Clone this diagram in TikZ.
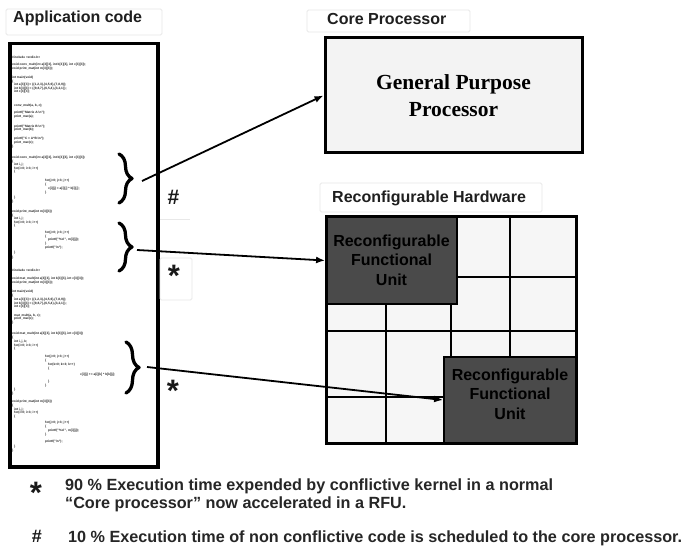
\documentclass[tikz,border=0pt]{standalone}
\usepackage{fontspec}
\setmainfont{Liberation Sans}
\newfontfamily\gppfont{Liberation Serif}
\usetikzlibrary{arrows.meta,decorations.pathreplacing}
\definecolor{rfufill}{HTML}{4A4A4A}
\definecolor{cellfill}{HTML}{F6F6F6}
\definecolor{gppfill}{HTML}{F3F3F3}
\definecolor{faint}{HTML}{E8E8E8}
\newcounter{srcln}
% one line of the tiny source listing: y, x, text
\newcommand\srcline[3]{\stepcounter{srcln}\node[codetext] (src\arabic{srcln}) at (#2,#1) {#3};}
\begin{document}
\begin{tikzpicture}[x=1pt,y=-1pt,
  heading/.style={anchor=west, inner sep=0pt, font=\bfseries\fontsize{16}{19}\selectfont, text=black!88},
  faintbox/.style={draw=faint, line width=0.8pt, rounded corners=1.5pt},
  codetext/.style={anchor=west, inner sep=0pt, font=\bfseries\fontsize{3.2}{3.2}\selectfont, text=black!85},
  rfu/.style={draw=black, line width=1.8pt, fill=rfufill, inner sep=0pt},
  rfutext/.style={align=center, inner sep=0pt, font=\bfseries\fontsize{16}{19.5}\selectfont, text=black},
  link/.style={line width=1.8pt, -{Latex[length=9pt,width=7pt]}},
  codebrace/.style={decorate, decoration={brace, amplitude=13pt, aspect=0.5}, line width=3.3pt, line cap=round, line join=round},
  sym/.style={anchor=base, inner sep=0pt, text=black!90},
  legendtext/.style={anchor=base west, inner sep=0pt, font=\bfseries\fontsize{16.2}{18}\selectfont, text=black!85},
]
\useasboundingbox (0,0) rectangle (686,553);
\fill[white] (0,0) rectangle (686,553);

% ---------- headings ----------
\draw[faintbox] (6,9) rectangle (162,35);
\draw[faintbox] (307,10) rectangle (470,32);
\draw[faintbox] (320,183) rectangle (542,212);
\node[heading] (apphead) at (13,18) {Application code};
\node[heading] (corehead) at (327,19) {Core Processor};
\node[heading] (rhwhead) at (332,198) {Reconfigurable Hardware};

% ---------- application code listing ----------
\node[draw=black, line width=3.5pt, fill=white, anchor=north west, inner sep=0pt,
      minimum width=148pt, minimum height=423pt] (app) at (8,42) {};

\srcline{57}{12}{\#include <stdio.h>}
\srcline{65}{12}{void conv\_mult(int a[3][3], int b[3][3], int c[3][3]);}
\srcline{68.5}{12}{void print\_mat(int m[3][3]);}
\srcline{78}{12}{int main(void)}
\srcline{81.5}{12}{\{}
\srcline{85}{14}{int a[3][3] = \{\{1,2,3\},\{4,5,6\},\{7,8,9\}\};}
\srcline{88.5}{14}{int b[3][3] = \{\{9,8,7\},\{6,5,4\},\{3,2,1\}\};}
\srcline{92}{14}{int c[3][3];}
\srcline{106}{14}{conv\_mult(a, b, c);}
\srcline{113}{14}{printf("Matrix A:\textbackslash n");}
\srcline{116.5}{14}{print\_mat(a);}
\srcline{126.5}{14}{printf("Matrix B:\textbackslash n");}
\srcline{130}{14}{print\_mat(b);}
\srcline{139}{14}{printf("C = A*B:\textbackslash n");}
\srcline{142.5}{14}{print\_mat(c);}
\srcline{147}{12}{\}}

\srcline{158}{12}{void conv\_mult(int a[3][3], int b[3][3], int c[3][3])}
\srcline{161.5}{12}{\{}
\srcline{165}{14}{int i, j;}
\srcline{168.5}{14}{for(i=0; i<3; i++)}
\srcline{172}{14}{\{}
\srcline{181}{45}{for(j=0; j<3; j++)}
\srcline{184.5}{45}{\{}
\srcline{189}{48}{c[i][j] = a[i][j] * b[i][j];}
\srcline{193}{45}{\}}
\srcline{198}{14}{\}}
\srcline{202}{12}{\}}
\srcline{212}{12}{void print\_mat(int m[3][3])}
\srcline{215.5}{12}{\{}
\srcline{219}{14}{int i, j;}
\srcline{222.5}{14}{for(i=0; i<3; i++)}
\srcline{226}{14}{\{}
\srcline{233}{45}{for(j=0; j<3; j++)}
\srcline{236.5}{45}{\{}
\srcline{240}{48}{printf("\%d ", m[i][j]);}
\srcline{244}{45}{\}}
\srcline{248}{45}{printf("\textbackslash n");}
\srcline{253}{14}{\}}
\srcline{258}{12}{\}}

\srcline{270}{12}{\#include <stdio.h>}
\srcline{279}{12}{void mat\_mult(int a[3][3], int b[3][3], int c[3][3]);}
\srcline{282.5}{12}{void print\_mat(int m[3][3]);}
\srcline{292}{12}{int main(void)}
\srcline{295.5}{12}{\{}
\srcline{300}{14}{int a[3][3] = \{\{1,2,3\},\{4,5,6\},\{7,8,9\}\};}
\srcline{303.5}{14}{int b[3][3] = \{\{9,8,7\},\{6,5,4\},\{3,2,1\}\};}
\srcline{307}{14}{int c[3][3];}
\srcline{315.5}{14}{mat\_mult(a, b, c);}
\srcline{319}{14}{print\_mat(c);}
\srcline{322.5}{12}{\}}
\srcline{334}{12}{void mat\_mult(int a[3][3], int b[3][3], int c[3][3])}
\srcline{337.5}{12}{\{}
\srcline{342}{14}{int i, j, k;}
\srcline{345.5}{14}{for(i=0; i<3; i++)}
\srcline{349}{14}{\{}
\srcline{357}{45}{for(j=0; j<3; j++)}
\srcline{360.5}{45}{\{}
\srcline{365}{48}{for(k=0; k<3; k++)}
\srcline{368.5}{48}{\{}
\srcline{375}{80}{c[i][j] += a[i][k] * b[k][j];}
\srcline{382}{48}{\}}
\srcline{386}{45}{\}}
\srcline{390}{14}{\}}
\srcline{393.5}{12}{\}}
\srcline{402}{12}{void print\_mat(int m[3][3])}
\srcline{405.5}{12}{\{}
\srcline{409.5}{14}{int i, j;}
\srcline{413}{14}{for(i=0; i<3; i++)}
\srcline{416.5}{14}{\{}
\srcline{423}{45}{for(j=0; j<3; j++)}
\srcline{426.5}{45}{\{}
\srcline{431}{48}{printf("\%d ", m[i][j]);}
\srcline{434.5}{45}{\}}
\srcline{442}{45}{printf("\textbackslash n");}
\srcline{447}{14}{\}}
\srcline{450.5}{12}{\}}

% braces marking the code regions
\draw[codebrace] (119,154) -- (119,203);
\draw[codebrace] (119,223) -- (119,271);
\draw[codebrace] (126,342) -- (126,393);

% ---------- core processor ----------
\node[draw=black, line width=3pt, fill=gppfill, inner sep=0pt,
      minimum width=257pt, minimum height=115pt, align=center,
      font=\gppfont\bfseries\fontsize{21.5}{27}\selectfont] (gpp) at (453.5,95.5)
      {General Purpose\\Processor};

% ---------- reconfigurable hardware ----------
\node[fill=cellfill, anchor=north west, inner sep=0pt,
      minimum width=250pt, minimum height=226pt] (rhw) at (326,217) {};
\begin{scope}[line width=1.5pt]
  \draw (510,217) -- (510,357);
  \draw (451,277) -- (451,357);
  \draw (386,304) -- (386,443);
  \draw (457,277) -- (576,277);
  \draw (326,331) -- (576,331);
  \draw (326,397) -- (444,397);
\end{scope}
\node[rfu, minimum width=131pt, minimum height=87pt] (rfuA) at (391.5,260.5) {};
\node[rfutext] (rfuAtext) at (391.5,260) {Reconfigurable\\Functional\\Unit};
\node[rfu, minimum width=132pt, minimum height=86pt] (rfuB) at (510,400) {};
\node[rfutext] (rfuBtext) at (510,394) {Reconfigurable\\Functional\\Unit};
\draw[line width=3pt] (rhw.north west) rectangle (rhw.south east);

% ---------- connectors ----------
\coordinate (s1) at (142,181);
\coordinate (s2) at (137,250);
\coordinate (s3) at (147,367);
\draw[link] (s1) -- (gpp.west);
\draw[link] (s2) -- (rfuA.west);
\draw[link] (s3) -- (rfuB.west);

% ---------- marks beside the connectors ----------
\draw[faint, line width=0.8pt] (160,219) -- (190,219);
\draw[faintbox] (160,258) rectangle (192,300);
\node[sym, font=\bfseries\fontsize{21}{21}\selectfont] (hashA) at (173.5,204.5) {\#};
\node[sym, font=\bfseries\fontsize{31}{31}\selectfont] (starA) at (174,287) {*};
\node[sym, font=\bfseries\fontsize{31}{31}\selectfont] (starB) at (173,402) {*};

% ---------- legend ----------
\node[sym, font=\bfseries\fontsize{31}{31}\selectfont] (legstar) at (36,503) {*};
\node[legendtext] (leg1a) at (65,490) {90 \% Execution time expended by conflictive kernel in a normal};
\node[legendtext] (leg1b) at (65,508) {“Core processor” now accelerated in a RFU.};
\node[sym, font=\bfseries\fontsize{18}{18}\selectfont] (leghash) at (37,542) {\#};
\node[legendtext] (leg2) at (68,542) {10 \% Execution time of non conflictive code is scheduled to the core processor.};
\end{tikzpicture}
\end{document}
